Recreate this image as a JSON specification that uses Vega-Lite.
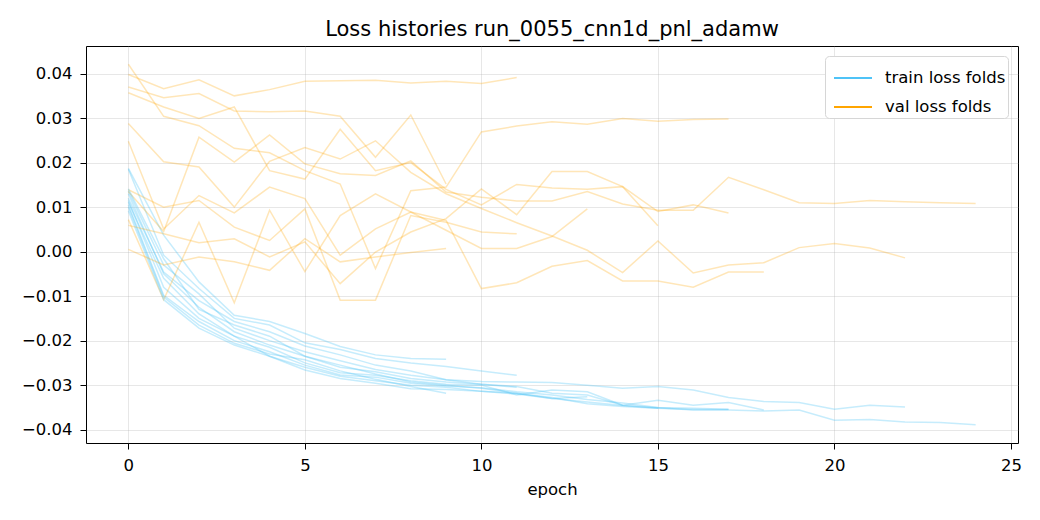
{
  "$schema": "https://vega.github.io/schema/vega-lite/v6.json",
  "autosize": {"type": "none"},
  "width": 932,
  "height": 397,
  "padding": {"left": 86, "top": 46, "right": 22, "bottom": 77},
  "background": "white",
  "title": {
    "text": "Loss histories run_0055_cnn1d_pnl_adamw",
    "font": "DejaVu Sans",
    "fontSize": 21,
    "fontWeight": "normal",
    "color": "black",
    "offset": 6
  },
  "config": {
    "font": "DejaVu Sans",
    "view": {"stroke": "black", "strokeWidth": 1},
    "axis": {
      "domain": false,
      "tickColor": "black",
      "tickSize": 6,
      "tickWidth": 1,
      "labelColor": "black",
      "labelFontSize": 16.5,
      "labelFont": "DejaVu Sans",
      "gridColor": "#b0b0b0",
      "gridOpacity": 0.3,
      "gridWidth": 1,
      "titleFont": "DejaVu Sans",
      "titleFontSize": 16.5,
      "titleFontWeight": "normal",
      "titleColor": "black"
    }
  },
  "data": {
    "values": [
      {"fold": 1, "epoch": 0, "train": 0.0120, "val": 0.0398},
      {"fold": 1, "epoch": 1, "train": -0.0046, "val": 0.0366},
      {"fold": 1, "epoch": 2, "train": -0.0110, "val": 0.0386},
      {"fold": 1, "epoch": 3, "train": -0.0157, "val": 0.0350},
      {"fold": 1, "epoch": 4, "train": -0.0180, "val": 0.0364},
      {"fold": 1, "epoch": 5, "train": -0.0212, "val": 0.0383},
      {"fold": 1, "epoch": 6, "train": -0.0232, "val": 0.0384},
      {"fold": 1, "epoch": 7, "train": -0.0255, "val": 0.0385},
      {"fold": 1, "epoch": 8, "train": -0.0268, "val": 0.0379},
      {"fold": 1, "epoch": 9, "train": -0.0288, "val": 0.0383},
      {"fold": 1, "epoch": 10, "train": -0.0298, "val": 0.0378},
      {"fold": 1, "epoch": 11, "train": -0.0305, "val": 0.0391},

      {"fold": 2, "epoch": 0, "train": 0.0187, "val": 0.0370},
      {"fold": 2, "epoch": 1, "train": 0.0037, "val": 0.0346},
      {"fold": 2, "epoch": 2, "train": -0.0068, "val": 0.0355},
      {"fold": 2, "epoch": 3, "train": -0.0143, "val": 0.0316},
      {"fold": 2, "epoch": 4, "train": -0.0157, "val": 0.0314},
      {"fold": 2, "epoch": 5, "train": -0.0184, "val": 0.0316},
      {"fold": 2, "epoch": 6, "train": -0.0213, "val": 0.0304},
      {"fold": 2, "epoch": 7, "train": -0.0232, "val": 0.0212},
      {"fold": 2, "epoch": 8, "train": -0.0240, "val": 0.0307},
      {"fold": 2, "epoch": 9, "train": -0.0242, "val": 0.0152},

      {"fold": 3, "epoch": 0, "train": 0.0105, "val": 0.0421},
      {"fold": 3, "epoch": 1, "train": -0.0098, "val": 0.0304},
      {"fold": 3, "epoch": 2, "train": -0.0157, "val": 0.0283},
      {"fold": 3, "epoch": 3, "train": -0.0200, "val": 0.0232},
      {"fold": 3, "epoch": 4, "train": -0.0225, "val": 0.0222},
      {"fold": 3, "epoch": 5, "train": -0.0255, "val": 0.0182},
      {"fold": 3, "epoch": 6, "train": -0.0277, "val": 0.0152},
      {"fold": 3, "epoch": 7, "train": -0.0282, "val": -0.0038},
      {"fold": 3, "epoch": 8, "train": -0.0296, "val": 0.0137},
      {"fold": 3, "epoch": 9, "train": -0.0302, "val": 0.0145},
      {"fold": 3, "epoch": 10, "train": -0.0306, "val": 0.0269},
      {"fold": 3, "epoch": 11, "train": -0.0315, "val": 0.0282},
      {"fold": 3, "epoch": 12, "train": -0.0322, "val": 0.0292},
      {"fold": 3, "epoch": 13, "train": -0.0332, "val": 0.0286},
      {"fold": 3, "epoch": 14, "train": -0.0340, "val": 0.0299},
      {"fold": 3, "epoch": 15, "train": -0.0350, "val": 0.0293},
      {"fold": 3, "epoch": 16, "train": -0.0352, "val": 0.0297},
      {"fold": 3, "epoch": 17, "train": -0.0354, "val": 0.0298},

      {"fold": 4, "epoch": 0, "train": 0.0115, "val": 0.0357},
      {"fold": 4, "epoch": 1, "train": -0.0080, "val": 0.0325},
      {"fold": 4, "epoch": 2, "train": -0.0150, "val": 0.0299},
      {"fold": 4, "epoch": 3, "train": -0.0190, "val": 0.0325},
      {"fold": 4, "epoch": 4, "train": -0.0235, "val": 0.0182},
      {"fold": 4, "epoch": 5, "train": -0.0260, "val": 0.0163},
      {"fold": 4, "epoch": 6, "train": -0.0280, "val": 0.0275},
      {"fold": 4, "epoch": 7, "train": -0.0290, "val": 0.0182},
      {"fold": 4, "epoch": 8, "train": -0.0300, "val": 0.0200},
      {"fold": 4, "epoch": 9, "train": -0.0305, "val": 0.0140},
      {"fold": 4, "epoch": 10, "train": -0.0314, "val": 0.0105},
      {"fold": 4, "epoch": 11, "train": -0.0318, "val": 0.0151},
      {"fold": 4, "epoch": 12, "train": -0.0328, "val": 0.0143},
      {"fold": 4, "epoch": 13, "train": -0.0342, "val": 0.0140},
      {"fold": 4, "epoch": 14, "train": -0.0348, "val": 0.0146},
      {"fold": 4, "epoch": 15, "train": -0.0352, "val": 0.0090},
      {"fold": 4, "epoch": 16, "train": -0.0355, "val": 0.0105},
      {"fold": 4, "epoch": 17, "train": -0.0355, "val": 0.0087},

      {"fold": 5, "epoch": 0, "train": 0.0136, "val": 0.0288},
      {"fold": 5, "epoch": 1, "train": -0.0030, "val": 0.0202},
      {"fold": 5, "epoch": 2, "train": -0.0095, "val": 0.0190},
      {"fold": 5, "epoch": 3, "train": -0.0172, "val": 0.0100},
      {"fold": 5, "epoch": 4, "train": -0.0200, "val": 0.0203},
      {"fold": 5, "epoch": 5, "train": -0.0225, "val": 0.0234},
      {"fold": 5, "epoch": 6, "train": -0.0245, "val": 0.0208},
      {"fold": 5, "epoch": 7, "train": -0.0265, "val": 0.0249},
      {"fold": 5, "epoch": 8, "train": -0.0278, "val": 0.0178},
      {"fold": 5, "epoch": 9, "train": -0.0288, "val": 0.0130},
      {"fold": 5, "epoch": 10, "train": -0.0292, "val": 0.0097},
      {"fold": 5, "epoch": 11, "train": -0.0293, "val": 0.0065},
      {"fold": 5, "epoch": 12, "train": -0.0294, "val": 0.0035},
      {"fold": 5, "epoch": 13, "train": -0.0300, "val": 0.0003},
      {"fold": 5, "epoch": 14, "train": -0.0307, "val": -0.0047},
      {"fold": 5, "epoch": 15, "train": -0.0303, "val": 0.0024},
      {"fold": 5, "epoch": 16, "train": -0.0311, "val": -0.0048},
      {"fold": 5, "epoch": 17, "train": -0.0328, "val": -0.0030},
      {"fold": 5, "epoch": 18, "train": -0.0337, "val": -0.0025},
      {"fold": 5, "epoch": 19, "train": -0.0339, "val": 0.0009},
      {"fold": 5, "epoch": 20, "train": -0.0354, "val": 0.0018},
      {"fold": 5, "epoch": 21, "train": -0.0345, "val": 0.0008},
      {"fold": 5, "epoch": 22, "train": -0.0349, "val": -0.0014},

      {"fold": 6, "epoch": 0, "train": 0.0130, "val": 0.0248},
      {"fold": 6, "epoch": 1, "train": -0.0050, "val": 0.0051},
      {"fold": 6, "epoch": 2, "train": -0.0125, "val": 0.0126},
      {"fold": 6, "epoch": 3, "train": -0.0180, "val": 0.0087},
      {"fold": 6, "epoch": 4, "train": -0.0210, "val": 0.0145},
      {"fold": 6, "epoch": 5, "train": -0.0235, "val": 0.0119},
      {"fold": 6, "epoch": 6, "train": -0.0260, "val": -0.0008},
      {"fold": 6, "epoch": 7, "train": -0.0270, "val": 0.0051},
      {"fold": 6, "epoch": 8, "train": -0.0285, "val": 0.0089},
      {"fold": 6, "epoch": 9, "train": -0.0293, "val": 0.0070},
      {"fold": 6, "epoch": 10, "train": -0.0298, "val": -0.0083},
      {"fold": 6, "epoch": 11, "train": -0.0303, "val": -0.0070},
      {"fold": 6, "epoch": 12, "train": -0.0318, "val": -0.0033},
      {"fold": 6, "epoch": 13, "train": -0.0322, "val": -0.0020},
      {"fold": 6, "epoch": 14, "train": -0.0345, "val": -0.0066},
      {"fold": 6, "epoch": 15, "train": -0.0334, "val": -0.0066},
      {"fold": 6, "epoch": 16, "train": -0.0345, "val": -0.0080},
      {"fold": 6, "epoch": 17, "train": -0.0339, "val": -0.0046},
      {"fold": 6, "epoch": 18, "train": -0.0356, "val": -0.0046},

      {"fold": 7, "epoch": 0, "train": 0.0185, "val": 0.0139},
      {"fold": 7, "epoch": 1, "train": -0.0008, "val": 0.0100},
      {"fold": 7, "epoch": 2, "train": -0.0083, "val": 0.0115},
      {"fold": 7, "epoch": 3, "train": -0.0150, "val": 0.0055},
      {"fold": 7, "epoch": 4, "train": -0.0165, "val": 0.0025},
      {"fold": 7, "epoch": 5, "train": -0.0205, "val": 0.0096},
      {"fold": 7, "epoch": 6, "train": -0.0220, "val": -0.0109},
      {"fold": 7, "epoch": 7, "train": -0.0240, "val": -0.0109},
      {"fold": 7, "epoch": 8, "train": -0.0250, "val": 0.0081},
      {"fold": 7, "epoch": 9, "train": -0.0258, "val": 0.0066},
      {"fold": 7, "epoch": 10, "train": -0.0268, "val": 0.0044},
      {"fold": 7, "epoch": 11, "train": -0.0278, "val": 0.0040},

      {"fold": 8, "epoch": 0, "train": 0.0111, "val": 0.0135},
      {"fold": 8, "epoch": 1, "train": -0.0060, "val": 0.0045},
      {"fold": 8, "epoch": 2, "train": -0.0140, "val": 0.0257},
      {"fold": 8, "epoch": 3, "train": -0.0190, "val": 0.0201},
      {"fold": 8, "epoch": 4, "train": -0.0215, "val": 0.0262},
      {"fold": 8, "epoch": 5, "train": -0.0250, "val": 0.0197},
      {"fold": 8, "epoch": 6, "train": -0.0272, "val": 0.0175},
      {"fold": 8, "epoch": 7, "train": -0.0278, "val": 0.0171},
      {"fold": 8, "epoch": 8, "train": -0.0290, "val": 0.0204},
      {"fold": 8, "epoch": 9, "train": -0.0298, "val": 0.0134},
      {"fold": 8, "epoch": 10, "train": -0.0300, "val": 0.0122},
      {"fold": 8, "epoch": 11, "train": -0.0322, "val": 0.0114},
      {"fold": 8, "epoch": 12, "train": -0.0311, "val": 0.0114},
      {"fold": 8, "epoch": 13, "train": -0.0315, "val": 0.0135},
      {"fold": 8, "epoch": 14, "train": -0.0345, "val": 0.0107},
      {"fold": 8, "epoch": 15, "train": -0.0351, "val": 0.0093},
      {"fold": 8, "epoch": 16, "train": -0.0356, "val": 0.0093},
      {"fold": 8, "epoch": 17, "train": -0.0356, "val": 0.0167},
      {"fold": 8, "epoch": 18, "train": -0.0358, "val": 0.0139},
      {"fold": 8, "epoch": 19, "train": -0.0356, "val": 0.0110},
      {"fold": 8, "epoch": 20, "train": -0.0379, "val": 0.0108},
      {"fold": 8, "epoch": 21, "train": -0.0377, "val": 0.0115},
      {"fold": 8, "epoch": 22, "train": -0.0383, "val": 0.0112},
      {"fold": 8, "epoch": 23, "train": -0.0384, "val": 0.0110},
      {"fold": 8, "epoch": 24, "train": -0.0389, "val": 0.0108},

      {"fold": 9, "epoch": 0, "train": 0.0141, "val": 0.0072},
      {"fold": 9, "epoch": 1, "train": -0.0016, "val": -0.0108},
      {"fold": 9, "epoch": 2, "train": -0.0130, "val": 0.0066},
      {"fold": 9, "epoch": 3, "train": -0.0165, "val": -0.0115},
      {"fold": 9, "epoch": 4, "train": -0.0190, "val": 0.0093},
      {"fold": 9, "epoch": 5, "train": -0.0235, "val": -0.0045},
      {"fold": 9, "epoch": 6, "train": -0.0255, "val": 0.0081},
      {"fold": 9, "epoch": 7, "train": -0.0275, "val": 0.0130},
      {"fold": 9, "epoch": 8, "train": -0.0293, "val": 0.0089},
      {"fold": 9, "epoch": 9, "train": -0.0300, "val": 0.0048},
      {"fold": 9, "epoch": 10, "train": -0.0307, "val": 0.0007},
      {"fold": 9, "epoch": 11, "train": -0.0318, "val": 0.0007},
      {"fold": 9, "epoch": 12, "train": -0.0330, "val": 0.0034},
      {"fold": 9, "epoch": 13, "train": -0.0326, "val": 0.0096},

      {"fold": 10, "epoch": 0, "train": 0.0092, "val": 0.0059},
      {"fold": 10, "epoch": 1, "train": -0.0108, "val": 0.0040},
      {"fold": 10, "epoch": 2, "train": -0.0172, "val": 0.0020},
      {"fold": 10, "epoch": 3, "train": -0.0210, "val": 0.0029},
      {"fold": 10, "epoch": 4, "train": -0.0235, "val": -0.0012},
      {"fold": 10, "epoch": 5, "train": -0.0266, "val": 0.0022},
      {"fold": 10, "epoch": 6, "train": -0.0285, "val": -0.0072},
      {"fold": 10, "epoch": 7, "train": -0.0296, "val": -0.0001},
      {"fold": 10, "epoch": 8, "train": -0.0308, "val": 0.0044},
      {"fold": 10, "epoch": 9, "train": -0.0310, "val": 0.0074},
      {"fold": 10, "epoch": 10, "train": -0.0314, "val": 0.0141},
      {"fold": 10, "epoch": 11, "train": -0.0320, "val": 0.0083},
      {"fold": 10, "epoch": 12, "train": -0.0330, "val": 0.0180},
      {"fold": 10, "epoch": 13, "train": -0.0338, "val": 0.0180},
      {"fold": 10, "epoch": 14, "train": -0.0346, "val": 0.0146},
      {"fold": 10, "epoch": 15, "train": -0.0352, "val": 0.0058},

      {"fold": 11, "epoch": 0, "train": 0.0100, "val": 0.0005},
      {"fold": 11, "epoch": 1, "train": -0.0102, "val": -0.0030},
      {"fold": 11, "epoch": 2, "train": -0.0165, "val": -0.0012},
      {"fold": 11, "epoch": 3, "train": -0.0206, "val": -0.0023},
      {"fold": 11, "epoch": 4, "train": -0.0230, "val": -0.0042},
      {"fold": 11, "epoch": 5, "train": -0.0243, "val": 0.0029},
      {"fold": 11, "epoch": 6, "train": -0.0268, "val": -0.0023},
      {"fold": 11, "epoch": 7, "train": -0.0287, "val": -0.0012},
      {"fold": 11, "epoch": 8, "train": -0.0303, "val": -0.0002},
      {"fold": 11, "epoch": 9, "train": -0.0318, "val": 0.0007}
    ]
  },
  "transform": [
    {"fold": ["train", "val"], "as": ["kind", "loss"]}
  ],
  "mark": {"type": "line", "strokeWidth": 1.5, "clip": true},
  "encoding": {
    "x": {
      "field": "epoch",
      "type": "quantitative",
      "title": "epoch",
      "scale": {"domain": [-1.2, 25.2], "nice": false, "zero": false},
      "axis": {"values": [0, 5, 10, 15, 20, 25], "format": "d", "titlePadding": 8, "labelPadding": 8}
    },
    "y": {
      "field": "loss",
      "type": "quantitative",
      "title": null,
      "scale": {"domain": [-0.043, 0.0462], "nice": false, "zero": false},
      "axis": {"values": [-0.04, -0.03, -0.02, -0.01, 0, 0.01, 0.02, 0.03, 0.04], "format": ".2f", "labelPadding": 8}
    },
    "color": {
      "field": "kind",
      "type": "nominal",
      "scale": {"domain": ["train", "val"], "range": ["#4fc3f7", "#ffa500"]},
      "legend": {
        "title": null,
        "orient": "top-right",
        "offset": 10,
        "labelExpr": "datum.label == 'train' ? 'train loss folds' : 'val loss folds'",
        "symbolType": "stroke",
        "symbolSize": 1444,
        "symbolStrokeWidth": 2,
        "symbolOpacity": 1,
        "symbolOffset": 6,
        "labelFontSize": 16.5,
        "labelFont": "DejaVu Sans",
        "labelColor": "black",
        "rowPadding": -3,
        "padding": 2,
        "strokeColor": "#d6d6d6",
        "fillColor": "white",
        "cornerRadius": 4,
        "labelOffset": 12
      }
    },
    "detail": {"field": "fold", "type": "nominal"},
    "opacity": {
      "condition": {"test": "datum.kind === 'train'", "value": 0.32},
      "value": 0.28
    }
  }
}
